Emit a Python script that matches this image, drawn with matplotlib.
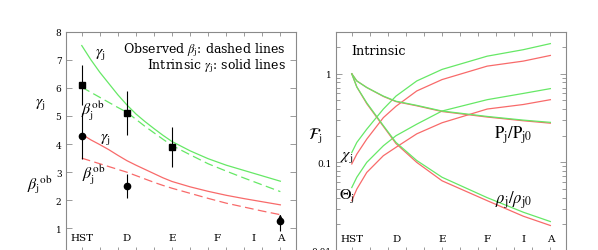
import matplotlib
matplotlib.use("Agg")
import matplotlib.pyplot as plt
from matplotlib.ticker import FixedLocator, NullFormatter, LogLocator, FixedFormatter

plt.rcParams['font.family'] = ['DejaVu Serif']
plt.rcParams['mathtext.fontset'] = 'stix'

GREEN = '#66e866'
RED = '#f86a6a'
GRAY = '#8a8a8a'

# ---------------- data: left panel ----------------
knots = ['HST', 'D', 'E', 'F', 'I', 'A']
knot_x = [1, 3.5, 6, 8.5, 10.5, 12]

xl = [1, 1.5, 2, 2.5, 3, 3.5, 4, 4.5, 5, 5.5, 6, 7, 8, 9, 10, 11, 12]
gamma_green = [7.5, 7.0, 6.55, 6.15, 5.75, 5.39, 5.07, 4.8, 4.55, 4.31, 4.09, 3.76, 3.48, 3.25, 3.06, 2.87, 2.68]
beta_green = [6.02, 5.84, 5.66, 5.48, 5.3, 5.13, 4.88, 4.63, 4.40, 4.17, 3.95, 3.62, 3.30, 3.04, 2.79, 2.55, 2.31]
gamma_red = [4.35, 4.15, 3.98, 3.8, 3.6, 3.41, 3.25, 3.1, 2.95, 2.8, 2.67, 2.48, 2.32, 2.18, 2.06, 1.95, 1.84]
beta_red = [3.50, 3.40, 3.30, 3.2, 3.1, 3.00, 2.88, 2.76, 2.64, 2.53, 2.43, 2.25, 2.07, 1.90, 1.76, 1.62, 1.49]

sq_x = [1, 3.5, 6]
sq_y = [6.1, 5.1, 3.91]
sq_err = [0.72, 0.77, 0.71]
ci_x = [1, 3.5]
ci_y = [4.3, 2.5]
ci_err = [0.82, 0.42]
lim_x = [12]
lim_y = [1.25]
lim_lo = [0.35]
lim_up = [1.5]

# ---------------- data: right panel ----------------
xr = [1, 1.28, 1.83, 2.75, 3.45, 4.6, 6, 8.5, 10.5, 12]
chi_green = [0.129, 0.168, 0.237, 0.40, 0.56, 0.83, 1.12, 1.58, 1.87, 2.19]
chi_red = [0.096, 0.124, 0.183, 0.32, 0.43, 0.64, 0.86, 1.22, 1.39, 1.61]
theta_green = [0.052, 0.068, 0.100, 0.154, 0.20, 0.27, 0.38, 0.51, 0.60, 0.68]
theta_red = [0.037, 0.050, 0.077, 0.119, 0.148, 0.21, 0.28, 0.40, 0.45, 0.51]
p_green = [1.0, 0.83, 0.70, 0.56, 0.49, 0.44, 0.38, 0.33, 0.30, 0.283]
p_red = [1.0, 0.83, 0.70, 0.555, 0.485, 0.435, 0.375, 0.325, 0.295, 0.277]
rho_green = [1.0, 0.71, 0.47, 0.26, 0.168, 0.105, 0.068, 0.040, 0.0274, 0.0215]
rho_red = [1.0, 0.71, 0.46, 0.255, 0.163, 0.100, 0.062, 0.037, 0.0247, 0.0194]

W, H = 598, 251
fig = plt.figure(figsize=(W / 100, H / 100), dpi=100)
ax1 = fig.add_axes([65.7 / W, (H - 252) / H, 230 / W, (252 - 32.5) / H])
ax2 = fig.add_axes([335.7 / W, (H - 252) / H, 230 / W, (252 - 32.5) / H])

for ax in (ax1, ax2):
    ax.set_xlim(0.11, 12.85)
    for s in ax.spines.values():
        s.set_color(GRAY)
        s.set_linewidth(0.8)
    ax.xaxis.set_major_locator(FixedLocator(range(1, 13)))
    ax.tick_params(axis='x', which='both', direction='in', top=True, bottom=True,
                   length=2.6, width=0.6, color=GRAY, labelbottom=False)
    ax.tick_params(axis='y', which='major', direction='in', left=True, right=True,
                   length=4.5, width=0.6, color=GRAY, labelsize=6.5, pad=3)
    ax.tick_params(axis='y', which='minor', direction='in', left=True, right=True,
                   length=2.6, width=0.6, color=GRAY)

# ---- left panel ----
lw = 0.9
ax1.plot(xl, gamma_green, color=GREEN, lw=lw)
ax1.plot(xl, beta_green, color=GREEN, lw=lw, dashes=(7, 3.5))
ax1.plot(xl, gamma_red, color=RED, lw=lw)
ax1.plot(xl, beta_red, color=RED, lw=lw, dashes=(7, 3.5))
ax1.errorbar(sq_x, sq_y, yerr=sq_err, fmt='s', color='black', ms=4, elinewidth=0.8, capsize=0)
ax1.errorbar(ci_x, ci_y, yerr=ci_err, fmt='o', color='black', ms=4.5, elinewidth=0.8, capsize=0)
ax1.errorbar(lim_x, lim_y, yerr=[lim_lo, [0]], fmt='o', color='black', ms=4.5, elinewidth=0.8, capsize=0)
ax1.annotate('', xy=(lim_x[0], lim_up[0]), xytext=(lim_x[0], lim_y[0]),
             arrowprops=dict(arrowstyle='->', color='black', lw=0.8, shrinkA=0, shrinkB=0,
                             mutation_scale=5))
ax1.set_ylim(0.2, 8)
ax1.yaxis.set_major_locator(FixedLocator(range(1, 9)))

for k, kx in zip(knots, knot_x):
    ax1.text(kx, 0.67, k, ha='center', va='center', fontsize=7.5)

MS = 11.5
ax1.text(2.01, 7.27, r'$\gamma_{\rm j}$', ha='center', va='center', fontsize=MS)
ax1.text(1.6, 5.19, r'$\beta_{\rm j}^{\rm ob}$', ha='center', va='center', fontsize=MS)
ax1.text(2.29, 4.25, r'$\gamma_{\rm j}$', ha='center', va='center', fontsize=MS)
ax1.text(1.68, 2.94, r'$\beta_{\rm j}^{\rm ob}$', ha='center', va='center', fontsize=MS)
ax1.text(12.3, 7.38, r'Observed $\beta_{\rm j}$: dashed lines', ha='right', va='center', fontsize=9)
ax1.text(12.3, 6.79, r'Intrinsic $\gamma_{\rm j}$: solid lines', ha='right', va='center', fontsize=9)

fig.text(40 / W, 1 - 103 / H, r'$\gamma_{\rm j}$', ha='center', va='center', fontsize=MS)
fig.text(40 / W, 1 - 185 / H, r'$\beta_{\rm j}{}^{\rm ob}$', ha='center', va='center', fontsize=MS)

# ---- right panel ----
ax2.set_yscale('log')
ax2.plot(xr, chi_green, color=GREEN, lw=lw)
ax2.plot(xr, chi_red, color=RED, lw=lw)
ax2.plot(xr, theta_green, color=GREEN, lw=lw)
ax2.plot(xr, theta_red, color=RED, lw=lw)
ax2.plot(xr, p_red, color=RED, lw=lw)
ax2.plot(xr, p_green, color=GREEN, lw=lw)
ax2.plot(xr, rho_red, color=RED, lw=lw)
ax2.plot(xr, rho_green, color=GREEN, lw=lw)
ax2.set_ylim(0.01, 3)
ax2.yaxis.set_major_locator(FixedLocator([0.01, 0.1, 1]))
ax2.yaxis.set_major_formatter(FixedFormatter(['0.01', '0.1', '1']))
ax2.yaxis.set_minor_locator(LogLocator(base=10, subs=range(2, 10)))
ax2.yaxis.set_minor_formatter(NullFormatter())

for k, kx in zip(knots, knot_x):
    ax2.text(kx, 0.0137, k, ha='center', va='center', fontsize=7.5)

ax2.text(1.0, 1.83, 'Intrinsic', ha='left', va='center', fontsize=9.2)
ax2.text(9.94, 0.208, r'$\mathrm{P_j/P_{j0}}$', ha='center', va='center', fontsize=12)
ax2.text(9.94, 0.0388, r'$\rho_{\rm j}/\rho_{\rm j0}$', ha='center', va='center', fontsize=12)
ax2.text(0.72, 0.119, r'$\chi_{\rm j}$', ha='center', va='center', fontsize=MS)
ax2.text(0.72, 0.042, r'$\Theta_{\rm j}$', ha='center', va='center', fontsize=MS)
fig.text(315 / W, 1 - 136.7 / H, r'$\mathcal{F}_{\rm j}$', ha='center', va='center', fontsize=MS)

fig.savefig('out.png', dpi=100)
